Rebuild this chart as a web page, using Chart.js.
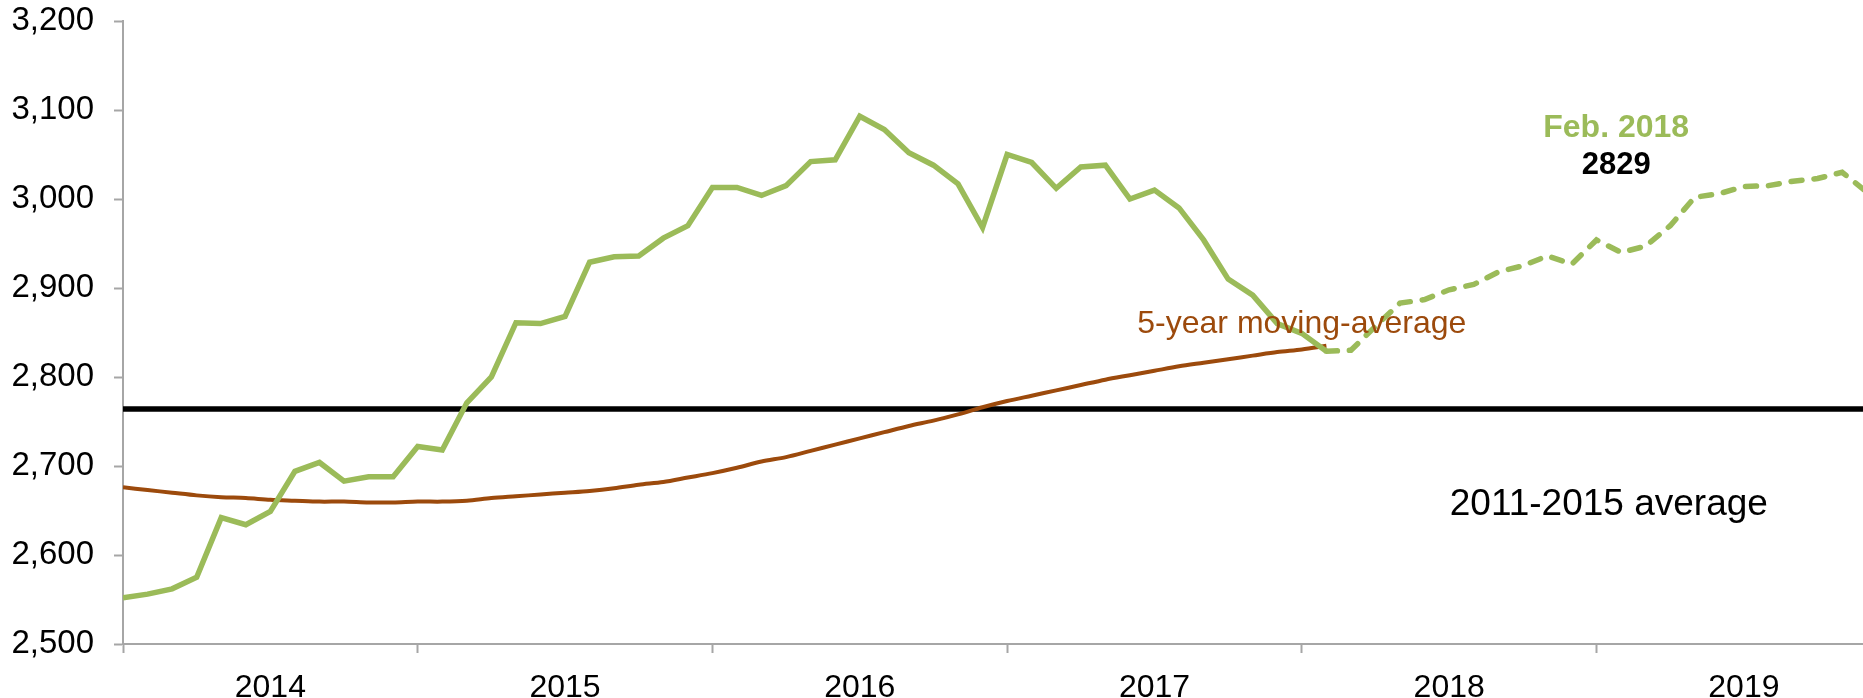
<!DOCTYPE html>
<html>
<head>
<meta charset="utf-8">
<title>Monthly level vs averages</title>
<script src="https://cdn.jsdelivr.net/npm/chart.js@4.4.1/dist/chart.umd.min.js"></script>
<style>
    html, body { margin: 0; padding: 0; background: #fff; }
    #wrap { width: 1863px; height: 698px; position: relative; }
</style>
</head>
<body>
<div id="wrap"><canvas id="chart"></canvas></div>
<script>
// Data (monthly, index 0 = Jan 2014)
const years = ['2014', '2015', '2016', '2017', '2018', '2019'];
const yTicks = [2500, 2600, 2700, 2800, 2900, 3000, 3100, 3200];

// Actual values, Jan 2014 - Feb 2018
const actual = [
    2552, 2556, 2562, 2575, 2642, 2634, 2649, 2694, 2704, 2683, 2688, 2688,
    2722, 2718, 2771, 2800, 2861, 2860, 2868, 2929, 2935, 2936, 2956, 2970,
    3013, 3013, 3004, 3015, 3042, 3044, 3093, 3078, 3052, 3038, 3017, 2968,
    3050, 3041, 3012, 3036, 3038, 3000, 3010, 2990, 2954, 2910, 2892, 2860,
    2849, 2829
];

// Projection, Feb 2018 onwards (dashed)
const projectedStart = 49;
const projected = [
    2829, 2830, 2857, 2883, 2887, 2898, 2904, 2918, 2925, 2936, 2927,
    2954, 2940, 2947, 2970, 3002, 3006, 3014, 3015, 3020, 3023, 3030, 3008
];

// 5-year moving average, Jan 2014 - Feb 2018
const movingAvg = [
    2676, 2673, 2670, 2667, 2665, 2664, 2662, 2661, 2660, 2660, 2659, 2659,
    2660, 2660, 2661, 2664, 2666, 2668, 2670, 2672, 2675, 2679, 2682, 2687,
    2692, 2698, 2705, 2710, 2717, 2724, 2731, 2738, 2745, 2751, 2758, 2766,
    2773, 2779, 2785, 2791, 2797, 2802, 2807, 2812, 2816, 2820, 2824, 2828,
    2831, 2835
];

const avg20112015 = 2764;

// Colors / fonts
const GREEN = '#9BBB59';
const BROWN = '#9C4A0C';
const AXIS = '#a6a6a6';
const FONT = '"Liberation Sans", Arial, sans-serif';

const lastIndex = projectedStart + projected.length - 1;
const xMax = 70.85;

// Text notes placed in data coordinates
const notes = [
    { text: 'Feb. 2018', x: 60.8, y: 3080, color: GREEN, font: 'bold 32px ' + FONT },
    { text: String(actual[actual.length - 1]), x: 60.8, y: 3038, color: '#000', font: 'bold 31px ' + FONT },
    { text: '5-year moving-average', x: 48.0, y: 2859, color: BROWN, font: '32px ' + FONT },
    { text: '2011-2015 average', x: 60.5, y: 2656, color: '#000', font: '37px ' + FONT }
];

const notesPlugin = {
    id: 'notes',
    afterDatasetsDraw(chart) {
        const ctx = chart.ctx;
        const xs = chart.scales.x, ys = chart.scales.y;
        ctx.save();
        ctx.textAlign = 'center';
        ctx.textBaseline = 'middle';
        notes.forEach(n => {
            ctx.font = n.font;
            ctx.fillStyle = n.color;
            ctx.fillText(n.text, xs.getPixelForValue(n.x), ys.getPixelForValue(n.y));
        });
        ctx.restore();
    }
};

// tick positions: year boundaries (marks) and mid-year (labels)
const xTickValues = [];
for (let m = 0; m <= 66; m += 6) xTickValues.push(m);

const ctx = document.getElementById('chart').getContext('2d');
new Chart(ctx, {
    type: 'line',
    data: {
        datasets: [
            {
                label: 'Actual',
                data: actual.map((v, i) => ({ x: i, y: v })),
                borderColor: GREEN,
                borderWidth: 5.5,
                pointRadius: 0,
                tension: 0
            },
            {
                label: 'Projection',
                data: projected.map((v, i) => ({ x: projectedStart + i, y: v })),
                borderColor: GREEN,
                borderWidth: 5.5,
                borderDash: [11, 12],
                borderCapStyle: 'round',
                pointRadius: 0,
                tension: 0
            },
            {
                label: '5-year moving-average',
                data: movingAvg.map((v, i) => ({ x: i, y: v })),
                borderColor: BROWN,
                borderWidth: 4,
                pointRadius: 0,
                tension: 0.3
            },
            {
                label: '2011-2015 average',
                data: [{ x: 0, y: avg20112015 }, { x: lastIndex, y: avg20112015 }],
                borderColor: '#000',
                borderWidth: 5.5,
                pointRadius: 0
            }
        ]
    },
    options: {
        responsive: true,
        maintainAspectRatio: false,
        animation: false,
        layout: { padding: 0 },
        plugins: {
            legend: { display: false },
            tooltip: { enabled: false }
        },
        scales: {
            x: {
                type: 'linear',
                min: 0,
                max: xMax,
                afterBuildTicks: s => { s.ticks = xTickValues.map(v => ({ value: v })); },
                afterFit: s => { s.height = 54; s.paddingLeft = 0; s.paddingRight = 0; },
                ticks: {
                    autoSkip: false,
                    maxRotation: 0,
                    padding: 16,
                    color: '#000',
                    font: { family: FONT, size: 32 },
                    callback: v => (v % 12 === 6 ? years[(v - 6) / 12] : '')
                },
                grid: {
                    drawOnChartArea: false,
                    tickLength: 9,
                    tickWidth: 2,
                    tickColor: c => (c.tick && c.tick.value % 12 === 0 ? AXIS : 'rgba(0,0,0,0)')
                },
                border: { color: AXIS, width: 2 }
            },
            y: {
                min: yTicks[0],
                max: yTicks[yTicks.length - 1],
                afterFit: s => { s.width = 123; s.paddingTop = 21; s.paddingBottom = 0; },
                ticks: {
                    stepSize: 100,
                    padding: 20,
                    color: '#000',
                    font: { family: FONT, size: 33 },
                    callback: v => v.toLocaleString('en-US')
                },
                grid: {
                    drawOnChartArea: false,
                    tickLength: 9,
                    tickWidth: 2,
                    tickColor: AXIS
                },
                border: { color: AXIS, width: 2 }
            }
        }
    },
    plugins: [notesPlugin]
});
</script>
</body>
</html>
